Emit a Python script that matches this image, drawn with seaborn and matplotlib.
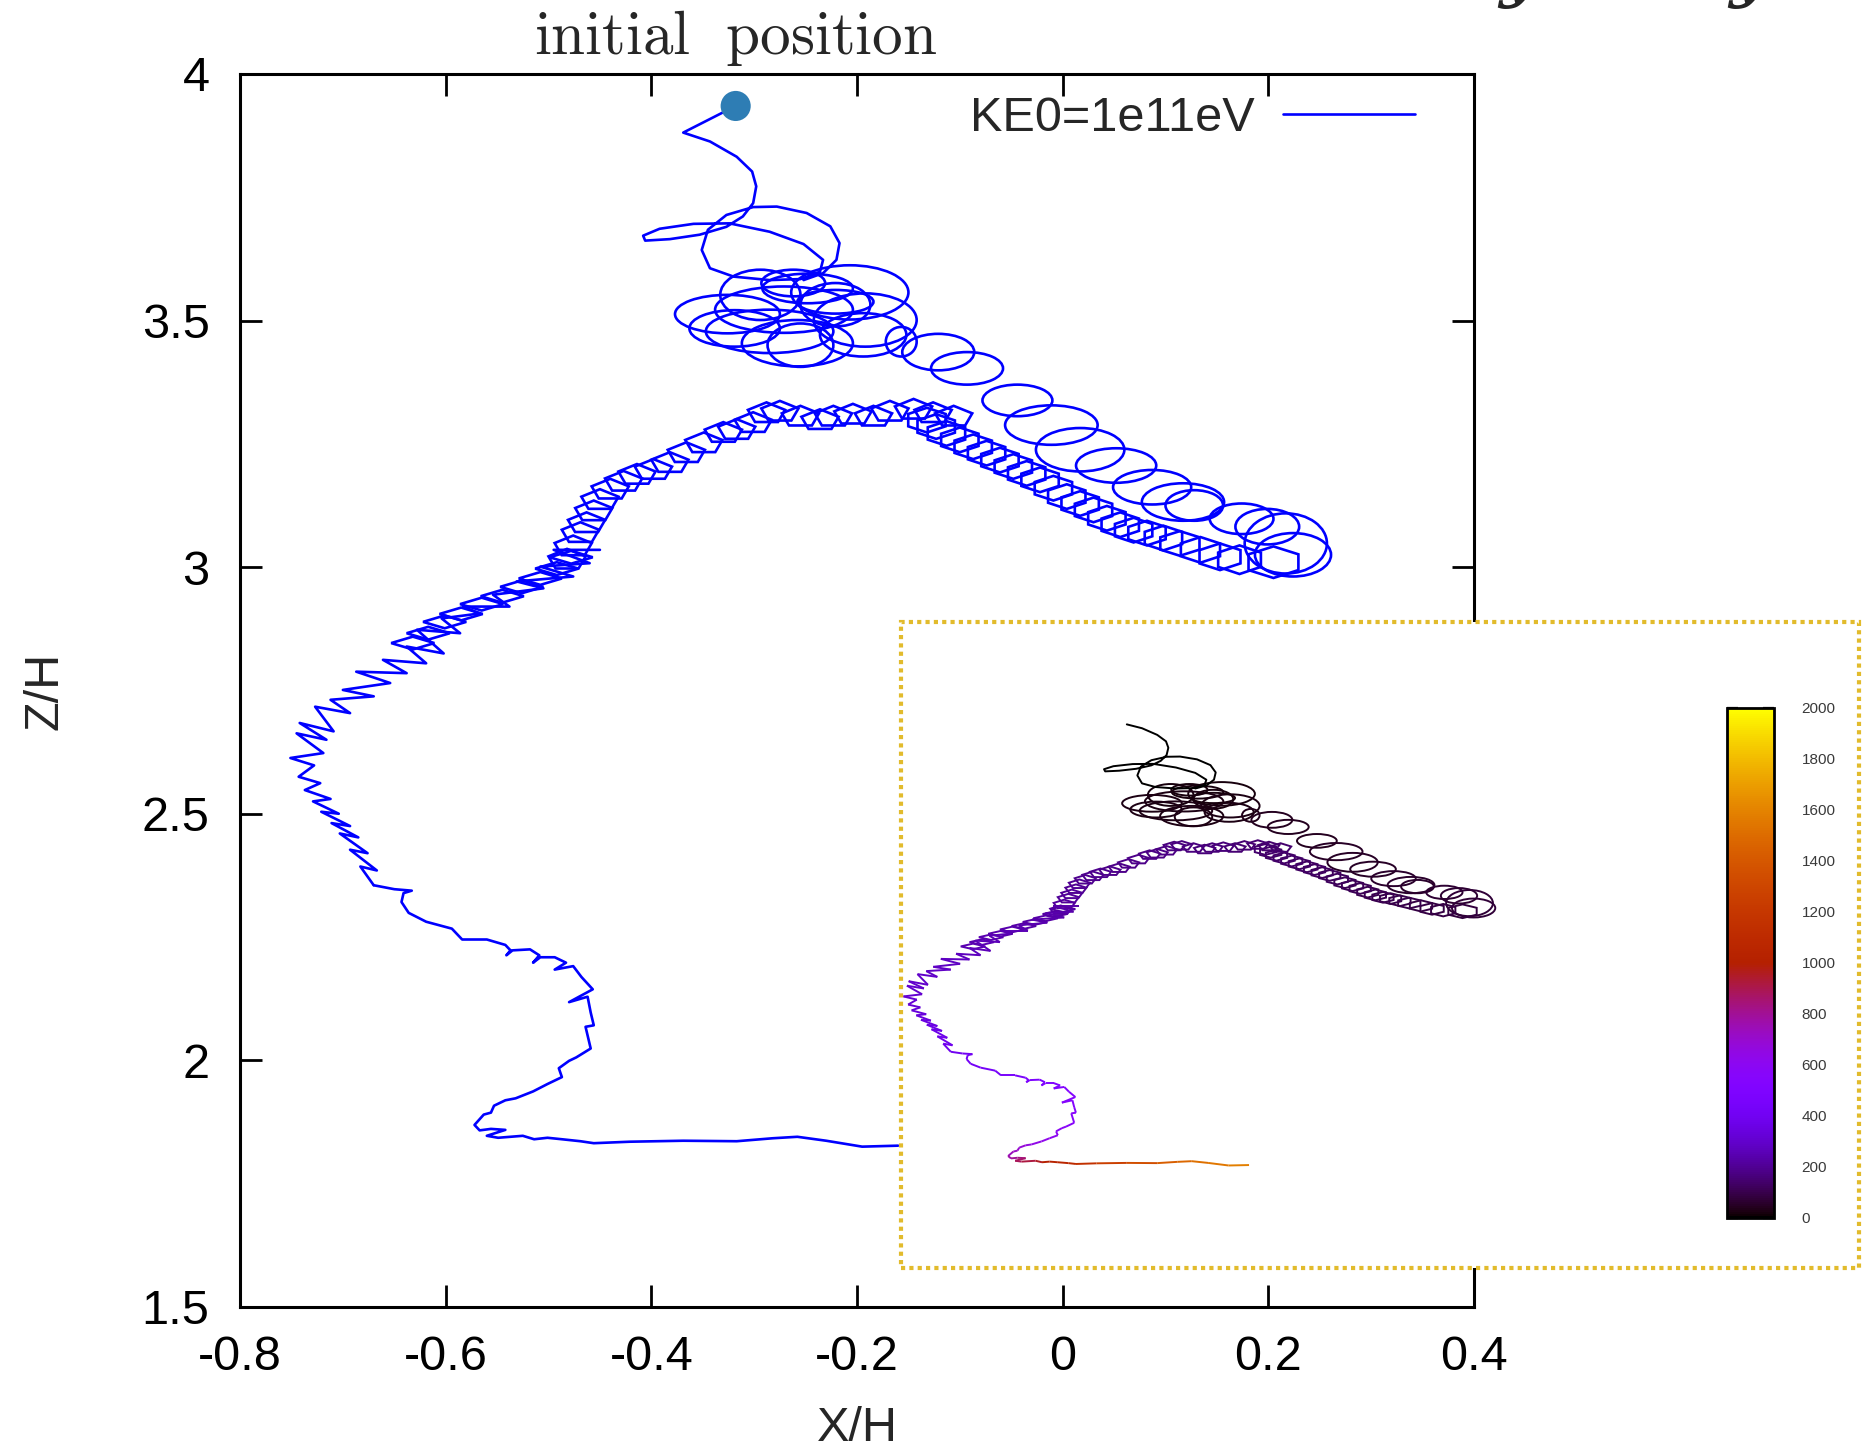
import matplotlib
matplotlib.use("Agg")
import numpy as np
import pandas as pd
import matplotlib.pyplot as plt
import seaborn as sns
from matplotlib.patches import Ellipse, PathPatch, Rectangle
from matplotlib.path import Path
from matplotlib.transforms import Affine2D
from matplotlib.collections import LineCollection
from matplotlib.colors import Normalize
from matplotlib.cm import ScalarMappable
from matplotlib.lines import Line2D

# ---------------- text ----------------
TITLE = r"$\mathrm{initial\ \ position}$"
LEGEND_LABEL = "KE0=1e11eV"
X_LABEL = "X/H"
Y_LABEL = "Z/H"
X_TICKS = [-0.8, -0.6, -0.4, -0.2, 0.0, 0.2, 0.4]
X_TICK_LABELS = ["-0.8", "-0.6", "-0.4", "-0.2", "0", "0.2", "0.4"]
Y_TICKS = [1.5, 2.0, 2.5, 3.0, 3.5, 4.0]
Y_TICK_LABELS = ["1.5", "2", "2.5", "3", "3.5", "4"]
CB_TICKS = [0, 200, 400, 600, 800, 1000, 1200, 1400, 1600, 1800, 2000]

# ---------------- trajectory data (X/H, Z/H) ----------------
DOT_X = [-0.318]
DOT_Y = [3.935]

START_X = [-0.318, -0.369, -0.343, -0.317, -0.302, -0.298, -0.301, -0.311, -0.327, -0.353,
           -0.382, -0.406, -0.408, -0.392, -0.359, -0.324, -0.285, -0.252, -0.233, -0.236,
           -0.255, -0.285, -0.320, -0.343, -0.351, -0.345, -0.327, -0.301, -0.278, -0.249,
           -0.226, -0.217, -0.220, -0.233, -0.252]
START_Y = [3.935, 3.881, 3.863, 3.832, 3.802, 3.772, 3.738, 3.711, 3.690, 3.674,
           3.665, 3.662, 3.672, 3.686, 3.696, 3.697, 3.680, 3.655, 3.623, 3.599,
           3.584, 3.582, 3.589, 3.606, 3.643, 3.684, 3.714, 3.730, 3.731, 3.718,
           3.691, 3.657, 3.623, 3.596, 3.582]
START_V = 5

# gyration loops: centre x, centre z, half-width, half-height
CLUSTER_CX = [-0.294, -0.248, -0.207, -0.221, -0.326, -0.271, -0.319, -0.285, -0.258, -0.255,
              -0.192, -0.194, -0.157, -0.262, -0.221]
CLUSTER_CY = [3.552, 3.565, 3.557, 3.532, 3.513, 3.522, 3.484, 3.478, 3.454, 3.450,
              3.501, 3.471, 3.457, 3.576, 3.538]
CLUSTER_RX = [0.039, 0.044, 0.057, 0.034, 0.051, 0.067, 0.044, 0.062, 0.054, 0.032,
              0.050, 0.042, 0.015, 0.031, 0.037]
CLUSTER_RY = [0.051, 0.030, 0.055, 0.044, 0.039, 0.047, 0.037, 0.044, 0.047, 0.044,
              0.054, 0.044, 0.030, 0.027, 0.024]
CLUSTER_V = [20, 20, 22, 22, 24, 24, 26, 26, 28, 28, 30, 30, 32, 20, 22]

CHAIN_CX = [-0.121, -0.093, -0.044, -0.011, 0.017, 0.052, 0.087, 0.117, 0.128, 0.174, 0.199, 0.217, 0.224]
CHAIN_CY = [3.436, 3.403, 3.338, 3.288, 3.238, 3.206, 3.162, 3.132, 3.125, 3.098, 3.082, 3.048, 3.025]
CHAIN_RX = [0.035, 0.035, 0.034, 0.045, 0.043, 0.039, 0.038, 0.040, 0.028, 0.031, 0.031, 0.040, 0.037]
CHAIN_RY = [0.037, 0.033, 0.032, 0.040, 0.044, 0.035, 0.035, 0.038, 0.031, 0.031, 0.036, 0.061, 0.044]
CHAIN_V = [40, 42, 45, 48, 50, 53, 56, 59, 62, 65, 68, 72, 75]

HEX_CX = [0.205, 0.172, 0.153, 0.134, 0.114, 0.098, 0.082, 0.069, 0.056, 0.043, 0.030, 0.017,
          0.004, -0.009, -0.022, -0.035, -0.048, -0.061, -0.074, -0.087, -0.100, -0.113, -0.123, -0.132]
HEX_CY = [3.010, 3.015, 3.021, 3.035, 3.048, 3.059, 3.069, 3.075, 3.086, 3.099, 3.116, 3.129,
          3.143, 3.160, 3.177, 3.190, 3.204, 3.217, 3.231, 3.244, 3.258, 3.271, 3.285, 3.298]
HEX_RX = [0.028, 0.024, 0.023, 0.022, 0.022, 0.021, 0.021, 0.021, 0.021, 0.021, 0.021, 0.021,
          0.021, 0.021, 0.021, 0.021, 0.021, 0.021, 0.021, 0.021, 0.021, 0.021, 0.021, 0.021]
HEX_RY = [0.032, 0.029, 0.027, 0.026, 0.025, 0.025, 0.025, 0.025, 0.025, 0.025, 0.025, 0.025,
          0.025, 0.025, 0.025, 0.025, 0.025, 0.025, 0.025, 0.025, 0.025, 0.025, 0.025, 0.025]
HEX_V = [85, 88, 90, 93, 95, 98, 100, 103, 105, 108, 110, 113,
         115, 118, 120, 123, 125, 128, 130, 133, 135, 138, 140, 143]

ARCH_CX = [-0.106, -0.126, -0.145, -0.168, -0.184, -0.204, -0.223, -0.236, -0.255, -0.275,
           -0.288, -0.301, -0.317, -0.330, -0.349, -0.366, -0.382, -0.398, -0.414, -0.427,
           -0.440, -0.450, -0.456, -0.463, -0.469, -0.476, -0.482]
ARCH_CY = [3.305, 3.312, 3.319, 3.315, 3.305, 3.309, 3.305, 3.298, 3.305, 3.315,
           3.312, 3.292, 3.278, 3.272, 3.251, 3.231, 3.211, 3.197, 3.187, 3.173,
           3.157, 3.136, 3.113, 3.089, 3.069, 3.042, 3.015]
ARCH_RX = 0.019
ARCH_RY = 0.022
ARCH_V = [145, 147, 150, 152, 155, 157, 160, 162, 165, 167, 170, 172, 175, 177,
          180, 182, 185, 187, 190, 192, 195, 197, 200, 205, 210, 215, 220]

# flattened loops on the upper-left descent
SLOPE_CX = [-0.478, -0.492, -0.508, -0.526, -0.545, -0.565, -0.585, -0.601, -0.617, -0.632]
SLOPE_CY = [3.020, 2.997, 2.977, 2.960, 2.941, 2.925, 2.905, 2.889, 2.866, 2.846]
SLOPE_RX = 0.021
SLOPE_RY = 0.013
SLOPE_V = [222, 225, 228, 231, 234, 237, 240, 243, 246, 249]

ZIG_X = [-0.450, -0.495, -0.460, -0.508, -0.476, -0.531, -0.505, -0.554, -0.538, -0.583,
         -0.567, -0.604, -0.586, -0.628, -0.602, -0.638, -0.619, -0.661, -0.638, -0.687,
         -0.654, -0.700, -0.670, -0.712, -0.693, -0.727, -0.709, -0.742, -0.716, -0.745,
         -0.719, -0.751, -0.728, -0.743, -0.722, -0.737, -0.712, -0.729, -0.704, -0.721,
         -0.693, -0.711, -0.685, -0.703, -0.676, -0.693, -0.667, -0.683, -0.670]
ZIG_Y = [3.035, 3.035, 3.008, 3.001, 2.981, 2.971, 2.957, 2.944, 2.920, 2.920,
         2.906, 2.896, 2.866, 2.873, 2.825, 2.839, 2.805, 2.812, 2.785, 2.788,
         2.765, 2.751, 2.738, 2.731, 2.704, 2.717, 2.667, 2.684, 2.650, 2.663,
         2.623, 2.613, 2.598, 2.575, 2.562, 2.548, 2.530, 2.525, 2.500, 2.504,
         2.475, 2.481, 2.452, 2.460, 2.420, 2.427, 2.385, 2.393, 2.355]
ZIG_V = [230, 232, 235, 237, 240, 242, 245, 247, 250, 252, 255, 257, 260, 262, 265, 267,
         270, 272, 275, 277, 280, 282, 285, 287, 290, 292, 295, 297, 300, 302, 305, 307,
         315, 320, 325, 330, 335, 340, 345, 350, 355, 360, 365, 370, 375, 380, 385, 390, 395]

LOW_X = [-0.670, -0.650, -0.633, -0.641, -0.643, -0.636, -0.619, -0.594, -0.584, -0.560, -0.542,
         -0.537, -0.541, -0.535, -0.518, -0.509, -0.515, -0.508, -0.494, -0.483, -0.494,
         -0.476, -0.468, -0.457, -0.480, -0.462, -0.459, -0.456, -0.464, -0.459, -0.473,
         -0.480, -0.490, -0.487, -0.501, -0.515, -0.532, -0.542, -0.553, -0.556, -0.563,
         -0.572, -0.567, -0.556, -0.542, -0.560, -0.549, -0.525, -0.514, -0.501, -0.487,
         -0.469, -0.456, -0.421, -0.369, -0.317, -0.282, -0.258, -0.230, -0.195, -0.160]
LOW_Y = [2.355, 2.347, 2.344, 2.339, 2.321, 2.299, 2.281, 2.267, 2.245, 2.245, 2.234,
         2.223, 2.213, 2.223, 2.225, 2.213, 2.198, 2.209, 2.209, 2.198, 2.184,
         2.191, 2.169, 2.144, 2.118, 2.129, 2.097, 2.071, 2.068, 2.024, 2.006,
         1.999, 1.984, 1.966, 1.952, 1.937, 1.923, 1.919, 1.908, 1.894, 1.890,
         1.869, 1.858, 1.861, 1.859, 1.847, 1.843, 1.847, 1.840, 1.843, 1.840,
         1.836, 1.832, 1.835, 1.837, 1.836, 1.842, 1.845, 1.837, 1.825, 1.827]
LOW_V = [398, 400, 405, 410, 415, 420, 430, 440, 450, 460, 470,
         475, 480, 485, 490, 495, 500, 505, 510, 515, 520,
         525, 530, 535, 540, 545, 550, 555, 560, 570, 580,
         590, 600, 610, 625, 640, 660, 680, 700, 720, 740,
         770, 800, 830, 860, 890, 920, 960, 1000, 1030, 1060,
         1100, 1150, 1250, 1350, 1430, 1480, 1520, 1550, 1580, 1600]

# ---------------- style ----------------
sns.set_theme(style="ticks")
plt.rcParams["font.family"] = ["Liberation Sans", "DejaVu Sans"]
plt.rcParams["mathtext.fontset"] = "cm"

BLUE = "#0000ff"
LW = 1.9
CMAP = plt.get_cmap("gnuplot")
NORM = Normalize(vmin=0, vmax=2000)
GOLD = "#e2bb2c"

fig = plt.figure(figsize=(18.71, 14.52), dpi=100)
fig.patch.set_facecolor("white")
ax = fig.add_axes([0.1283, 0.0999, 0.6595, 0.8492])
ax.set_facecolor("white")


def add_loop(a, cx, cy, rx, ry, color, lw, nv=None):
    if nv is None:
        p = Ellipse((cx, cy), 2 * rx, 2 * ry, fill=False, ec=color, lw=lw)
    else:
        p = PathPatch(Path.unit_regular_polygon(nv),
                      transform=Affine2D().scale(rx, ry).translate(cx, cy) + a.transData,
                      fill=False, ec=color, lw=lw)
    a.add_patch(p)


def draw_trajectory(a, lw, colfun, main):
    if main:
        for xs, ys in ((START_X, START_Y), (ZIG_X, ZIG_Y), (LOW_X, LOW_Y)):
            sns.lineplot(data=pd.DataFrame({"x": xs, "y": ys}), x="x", y="y",
                         sort=False, estimator=None, color=BLUE, lw=lw, ax=a)
    else:
        a.plot(START_X[1:], START_Y[1:], color=CMAP(NORM(START_V)), lw=lw)
        for xs, ys, vs in ((ZIG_X, ZIG_Y, ZIG_V), (LOW_X, LOW_Y, LOW_V)):
            pts = np.column_stack([xs, ys])
            segs = np.stack([pts[:-1], pts[1:]], axis=1)
            lc = LineCollection(segs, cmap=CMAP, norm=NORM, linewidths=lw)
            lc.set_array(np.asarray(vs[:-1], dtype=float))
            a.add_collection(lc)
    for i in range(len(CLUSTER_CX)):
        add_loop(a, CLUSTER_CX[i], CLUSTER_CY[i], CLUSTER_RX[i], CLUSTER_RY[i], colfun(CLUSTER_V[i]), lw)
    for i in range(len(CHAIN_CX)):
        add_loop(a, CHAIN_CX[i], CHAIN_CY[i], CHAIN_RX[i], CHAIN_RY[i], colfun(CHAIN_V[i]), lw)
    for i in range(len(HEX_CX)):
        add_loop(a, HEX_CX[i], HEX_CY[i], HEX_RX[i], HEX_RY[i], colfun(HEX_V[i]), lw, nv=6)
    for i in range(len(ARCH_CX)):
        add_loop(a, ARCH_CX[i], ARCH_CY[i], ARCH_RX, ARCH_RY, colfun(ARCH_V[i]), lw, nv=5)
    for i in range(len(SLOPE_CX)):
        add_loop(a, SLOPE_CX[i], SLOPE_CY[i], SLOPE_RX, SLOPE_RY, colfun(SLOPE_V[i]), lw, nv=4)


draw_trajectory(ax, LW, lambda v: BLUE, True)
sns.scatterplot(x=DOT_X, y=DOT_Y, s=470, color="#2e7db4", edgecolor="none", ax=ax,
                zorder=6, clip_on=False)

ax.set_xlim(-0.8, 0.4)
ax.set_ylim(1.5, 4.0)
ax.set_xticks(X_TICKS)
ax.set_xticklabels(X_TICK_LABELS)
ax.set_yticks(Y_TICKS)
ax.set_yticklabels(Y_TICK_LABELS)
ax.tick_params(direction="in", top=True, right=True, length=16, width=2.0,
               labelsize=35, color="black", labelcolor="black")
ax.tick_params(axis="x", pad=20)
ax.tick_params(axis="y", pad=22)
for s in ax.spines.values():
    s.set_visible(True)
    s.set_linewidth(2.2)
    s.set_color("black")
ax.set_xlabel(X_LABEL, fontsize=35)
ax.set_ylabel(Y_LABEL, fontsize=35)
ax.xaxis.set_label_coords(0.5, -0.08)
ax.yaxis.set_label_coords(-0.14, 0.5)

handle = Line2D([], [], color=BLUE, lw=LW)
ax.legend([handle], [LEGEND_LABEL], loc="upper right", bbox_to_anchor=(0.952, 0.982),
          frameon=False, markerfirst=False, handlelength=2.7, handletextpad=0.6,
          fontsize=35, borderaxespad=0, borderpad=0)

fig.text(0.3934, 0.9628, TITLE, fontsize=44, ha="center", va="baseline")
for xf in (0.811, 0.934):
    fig.text(xf, 1.004, "y", fontsize=48, family="DejaVu Serif", fontweight="bold",
             fontstyle="italic", ha="center", va="baseline")

# ---------------- inset (colour by value) ----------------
ins = fig.add_axes([0.4816, 0.1267, 0.512, 0.4449])
ins.set_facecolor("white")
draw_trajectory(ins, 1.4, lambda v: CMAP(NORM(v)), False)
ins.set_xlim(-0.755, 0.883)
ins.set_ylim(1.347, 4.358)
ins.set_xticks([])
ins.set_yticks([])
for s in ins.spines.values():
    s.set_visible(False)
ins.add_patch(Rectangle((0, 0), 1, 1, transform=ins.transAxes, fill=False, ec=GOLD,
                        lw=3.0, ls=(0, (1, 1)), capstyle="butt", clip_on=False, zorder=10))

cax = fig.add_axes([0.9230, 0.1612, 0.0251, 0.3512])
cb = fig.colorbar(ScalarMappable(norm=NORM, cmap=CMAP), cax=cax, ticks=CB_TICKS)
cb.outline.set_linewidth(2.0)
cb.outline.set_edgecolor("black")
cax.tick_params(direction="in", left=True, right=True, length=8, width=1.6,
                labelsize=11, labelcolor="#3a3a3a", pad=20, color="black")

fig.savefig("out.png", dpi=100, facecolor="white")
